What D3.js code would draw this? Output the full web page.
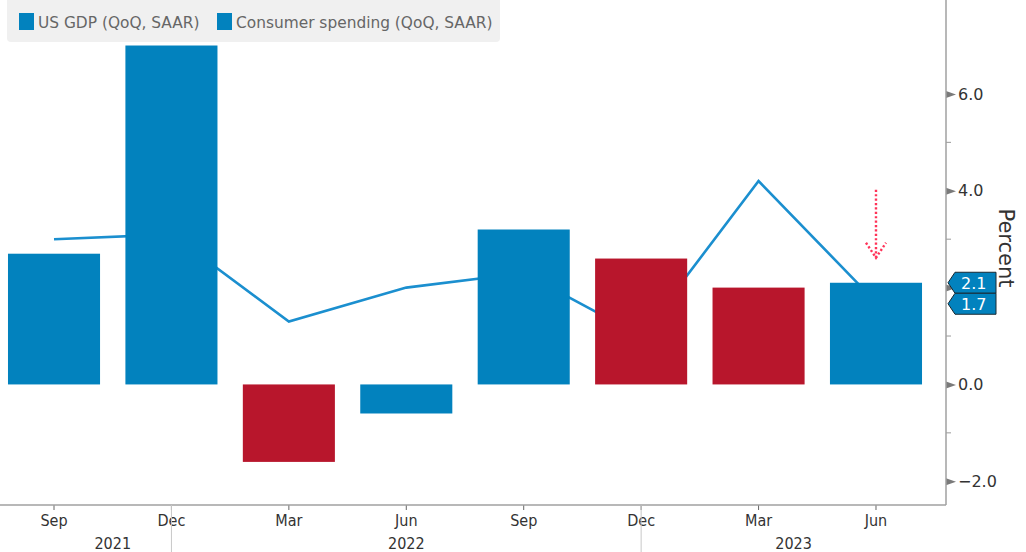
<!DOCTYPE html>
<html>
<head>
<meta charset="utf-8">
<script src="https://cdn.jsdelivr.net/npm/d3@7"></script>
<style>
  html, body { margin: 0; padding: 0; background: #fff; }
  svg { display: block; }
</style>
</head>
<body>
<svg id="chart" width="1026" height="552"></svg>
<script>
// quarterly readings, % QoQ SAAR
const quarters = ['Sep 2021', 'Dec 2021', 'Mar 2022', 'Jun 2022', 'Sep 2022', 'Dec 2022', 'Mar 2023', 'Jun 2023'];
const gdp = [2.7, 7.0, -1.6, -0.6, 3.2, 2.6, 2.0, 2.1];
const consumerSpending = [3.0, 3.1, 1.3, 2.0, 2.3, 1.0, 4.2, 1.7];
const yTicks = [-2, 0, 2, 4, 6];
const yMinorTicks = [-1, 1, 3, 5];
const years = ['2021', '2022', '2023'];
const seriesNames = ['US GDP (QoQ, SAAR)', 'Consumer spending (QoQ, SAAR)'];

// quarters whose GDP bar is highlighted in red
const redQuarters = ['Mar 2022', 'Dec 2022', 'Mar 2023'];

const blue = '#0282be';
const red = '#b8162c';
const lineBlue = '#1b8fcf';
const axisX = 946;
const axisY = 505;

const svg = d3.select('#chart');

const x = d3.scaleBand()
  .domain(quarters)
  .range([-4.7, 934.7])
  .paddingInner(0.216)
  .paddingOuter(0.108);

const y = d3.scaleLinear()
  .domain([-2.49, 7.94])
  .range([axisY, 0]);

const cx = q => x(q) + x.bandwidth() / 2;
const last = quarters.length - 1;

// consumer spending line sits behind the bars
const line = d3.line()
  .x((d, i) => cx(quarters[i]))
  .y(d => y(d));

svg.append('path')
  .datum(consumerSpending)
  .attr('d', line)
  .attr('fill', 'none')
  .attr('stroke', lineBlue)
  .attr('stroke-width', 2.6);

svg.append('g')
  .selectAll('rect')
  .data(gdp)
  .join('rect')
  .attr('x', (d, i) => x(quarters[i]))
  .attr('width', x.bandwidth())
  .attr('y', d => y(Math.max(0, d)))
  .attr('height', d => Math.abs(y(d) - y(0)))
  .attr('fill', (d, i) => redQuarters.includes(quarters[i]) ? red : blue);

// right axis; the label nearest the last-value tags is hidden under them
const tagTop = y(gdp[last]) - 11;
const tagBottom = y(gdp[last]) + 32;
const yAxis = svg.append('g')
  .attr('transform', `translate(${axisX},0)`)
  .call(d3.axisRight(y)
    .tickValues(yTicks)
    .tickFormat(d => (y(d) > tagTop && y(d) < tagBottom) ? '' : d3.format('.1f')(d))
    .tickSize(0)
    .tickPadding(12));

yAxis.select('.domain').remove();
yAxis.selectAll('text')
  .attr('fill', '#333')
  .style('font-family', 'DejaVu Sans')
  .style('font-size', '16px');
yAxis.selectAll('.tick')
  .append('path')
  .attr('d', 'M0,-3.5L10,0L0,3.5Z')
  .attr('fill', '#7a7a7a');

svg.append('g')
  .selectAll('line')
  .data(yMinorTicks)
  .join('line')
  .attr('x1', axisX)
  .attr('x2', axisX + 5)
  .attr('y1', d => y(d))
  .attr('y2', d => y(d))
  .attr('stroke', '#999');

svg.append('line')
  .attr('x1', axisX).attr('x2', axisX)
  .attr('y1', 0).attr('y2', axisY)
  .attr('stroke', '#a0a0a0')
  .attr('stroke-width', 1.5);

svg.append('text')
  .attr('transform', `translate(999,248) rotate(90)`)
  .attr('text-anchor', 'middle')
  .attr('fill', '#333')
  .style('font-family', 'DejaVu Sans')
  .style('font-size', '21px')
  .text('Percent');

// bottom axis
const xAxis = svg.append('g')
  .attr('transform', `translate(0,${axisY})`)
  .call(d3.axisBottom(x).tickFormat(q => q.split(' ')[0]).tickSize(5).tickPadding(5));

xAxis.select('.domain').remove();
xAxis.selectAll('.tick line').attr('stroke', '#666');
xAxis.selectAll('text')
  .attr('fill', '#333')
  .style('font-family', 'DejaVu Sans Condensed')
  .style('font-size', '16px');

svg.append('line')
  .attr('x1', 0).attr('x2', axisX)
  .attr('y1', axisY).attr('y2', axisY)
  .attr('stroke', '#a0a0a0')
  .attr('stroke-width', 1.5);

// year separators at the last quarter of each year
const yearEnds = quarters.filter(q => q.startsWith('Dec'));
svg.append('g')
  .selectAll('line')
  .data(yearEnds)
  .join('line')
  .attr('x1', d => cx(d))
  .attr('x2', d => cx(d))
  .attr('y1', axisY)
  .attr('y2', 552)
  .attr('stroke', '#c8c8c8');

const yearSpans = years.map(yr => {
  const qs = quarters.filter(q => q.endsWith(yr));
  const prevEnd = yearEnds.find(q => q.endsWith(String(+yr - 1)));
  const left = prevEnd ? cx(prevEnd) : cx(qs[0]);
  const thisEnd = yearEnds.find(q => q.endsWith(yr));
  const right = thisEnd ? cx(thisEnd) : axisX;
  return { yr, mid: (left + right) / 2 };
});

svg.append('g')
  .selectAll('text')
  .data(yearSpans)
  .join('text')
  .attr('x', d => d.mid)
  .attr('y', 549)
  .attr('text-anchor', 'middle')
  .attr('fill', '#333')
  .style('font-family', 'DejaVu Sans Condensed')
  .style('font-size', '16px')
  .text(d => d.yr);

// last-value tags on the axis
const tags = [
  { v: gdp[last], cy: y(gdp[last]) },
  { v: consumerSpending[last], cy: y(gdp[last]) + 21 }
];
const tag = svg.append('g')
  .selectAll('g')
  .data(tags)
  .join('g')
  .attr('transform', d => `translate(${axisX + 2},${d.cy})`);

tag.append('path')
  .attr('d', 'M0,0L7,-10.5H48V10.5H7Z')
  .attr('fill', blue)
  .attr('stroke', '#1a2a33')
  .attr('stroke-width', 1);

tag.append('text')
  .attr('x', 13)
  .attr('y', 6)
  .attr('fill', '#fff')
  .style('font-family', 'DejaVu Sans')
  .style('font-size', '16px')
  .text(d => d3.format('.1f')(d.v));

// dotted arrow over the latest quarter
const arrowX = cx(quarters[last]);
const arrowTip = y(gdp[last]) - 25;
svg.append('line')
  .attr('x1', arrowX).attr('x2', arrowX)
  .attr('y1', arrowTip - 68).attr('y2', arrowTip)
  .attr('stroke', '#ff3358')
  .attr('stroke-width', 2.4)
  .attr('stroke-dasharray', '2.2,2.2');
svg.append('path')
  .attr('d', `M${arrowX - 10},${arrowTip - 15}L${arrowX},${arrowTip}L${arrowX + 10},${arrowTip - 15}`)
  .attr('fill', 'none')
  .attr('stroke', '#ff3358')
  .attr('stroke-width', 2.4)
  .attr('stroke-dasharray', '2.2,2.2');

// legend
const legend = svg.append('g');
legend.append('rect')
  .attr('x', 7).attr('y', -6)
  .attr('width', 493).attr('height', 48)
  .attr('rx', 4)
  .attr('fill', '#f0f0f0');

const legendX = [19, 217];
const item = legend.selectAll('g')
  .data(seriesNames)
  .join('g')
  .attr('transform', (d, i) => `translate(${legendX[i]},0)`);

item.append('rect')
  .attr('y', 13)
  .attr('width', 15)
  .attr('height', 17)
  .attr('fill', blue);

item.append('text')
  .attr('x', 19)
  .attr('y', 28)
  .attr('fill', '#666')
  .style('font-family', 'DejaVu Sans')
  .style('font-size', '15.4px')
  .text(d => d);
</script>
</body>
</html>
